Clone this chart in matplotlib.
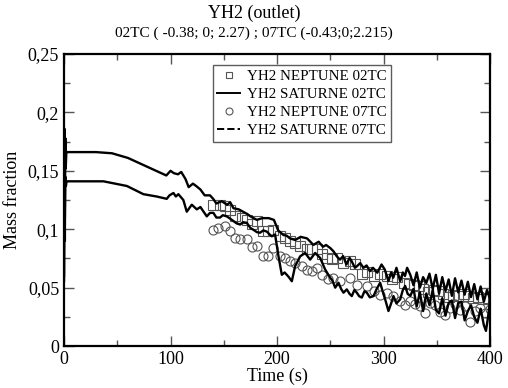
import matplotlib
matplotlib.use("Agg")
import matplotlib.pyplot as plt
from matplotlib.lines import Line2D
from matplotlib.ticker import MultipleLocator, FuncFormatter

plt.rcParams["font.family"] = ["Liberation Serif", "DejaVu Serif"]

# SATURNE 02TC (solid)
t_sat02 = [0, 0.4, 0.8, 1.2, 1.6, 2.2, 30, 45, 60, 72, 84, 96, 100, 103, 107, 110,
           114, 117, 121, 124, 128, 132, 137, 140, 143, 148, 153, 156, 159, 164, 168,
           172, 175, 181, 186, 192, 197, 201, 206, 209, 212, 217, 222, 228, 231, 234,
           239, 243, 246, 250, 253, 256, 259, 262, 265, 268, 270, 273, 275, 278, 281,
           284, 287, 290, 294, 298, 301, 304.5, 307, 309, 312, 315.5, 318, 320, 322,
           325, 328, 331, 334, 337, 340, 343, 346, 349, 352, 355, 358, 361, 364, 367,
           370, 373, 376, 379, 382, 385, 388, 391, 394, 397, 400]
y_sat02 = [0.056, 0.186, 0.09, 0.178, 0.152, 0.166, 0.166, 0.165, 0.161, 0.156,
           0.151, 0.146, 0.150, 0.148, 0.147, 0.149, 0.143, 0.136, 0.139, 0.137,
           0.134, 0.129, 0.129, 0.126, 0.122, 0.124, 0.121, 0.123, 0.118, 0.117,
           0.115, 0.113, 0.111, 0.108, 0.1095, 0.1095, 0.108, 0.099, 0.095, 0.0945,
           0.0922, 0.0908, 0.0935, 0.0922, 0.0895, 0.0866, 0.0893, 0.085, 0.0865,
           0.0838, 0.081, 0.0768, 0.074, 0.077, 0.0698, 0.0755, 0.0726, 0.067, 0.0684,
           0.071, 0.067, 0.069, 0.0642, 0.067, 0.0628, 0.0698, 0.0656, 0.0556, 0.063,
           0.0585, 0.067, 0.0556, 0.063, 0.060, 0.067,
           0.061, 0.052, 0.063, 0.050, 0.059, 0.054, 0.062, 0.049, 0.061, 0.045, 0.059,
           0.047, 0.057, 0.043, 0.058, 0.046, 0.056, 0.044, 0.055, 0.042, 0.053, 0.040,
           0.051, 0.038, 0.048, 0.040]

# SATURNE 07TC (dashed in the legend)
t_sat07 = [0, 0.4, 0.8, 1.2, 1.8, 2.4, 37, 59, 74.5, 87, 96.4, 99, 102.7, 105, 107.3,
           112, 115.2, 119.9, 124.6, 128, 131, 134, 137, 140.2, 143, 146.5, 149, 152.8,
           156, 159, 162, 165.3, 168, 171.5, 175, 177.8, 181, 184, 187, 190.3, 193,
           195, 198.1, 201.3, 204.4, 207, 209.1, 211, 213.8, 216.9, 221.6, 226.3, 231,
           235.7, 240.4, 245.1, 249.8, 252, 254.5, 257.6, 260, 262.3, 265.4, 268,
           270.1, 272.5, 274.8, 277, 279.5, 282, 284.2, 287, 290.5, 293.5, 296.7, 299,
           301.4, 304.5, 307, 309.2, 312, 315.5, 318, 320.2, 322.5,
           325, 328, 331, 334, 337, 340, 343, 346, 349, 352, 355, 358, 361, 364, 367,
           370, 373, 376, 379, 382, 385, 388, 391, 394, 396, 398, 400]
y_sat07 = [0.06, 0.152, 0.11, 0.145, 0.137, 0.141, 0.141, 0.137, 0.130, 0.128,
           0.126, 0.129, 0.131, 0.128, 0.130, 0.125, 0.115, 0.121, 0.117, 0.119,
           0.115, 0.111, 0.114, 0.114, 0.110, 0.110, 0.112, 0.111, 0.109, 0.107,
           0.105, 0.104, 0.106, 0.1055, 0.101, 0.0995, 0.0975, 0.097, 0.099, 0.098,
           0.0955, 0.094, 0.0955, 0.0768, 0.061, 0.063, 0.061, 0.059, 0.0555, 0.0684,
           0.0768, 0.0797, 0.074, 0.0797, 0.0754, 0.0655, 0.0585, 0.056, 0.05,
           0.0542, 0.049, 0.0457, 0.0485, 0.0447, 0.0428, 0.048, 0.0457, 0.0427, 0.0415,
           0.047, 0.0457, 0.0417, 0.0428, 0.049, 0.0542, 0.047, 0.04, 0.03, 0.0365,
           0.0428, 0.0365, 0.04, 0.048, 0.0515, 0.0447,
           0.043, 0.049, 0.034, 0.046, 0.030, 0.045, 0.035, 0.048, 0.031, 0.028, 0.041,
           0.026, 0.037, 0.039, 0.024, 0.037, 0.038, 0.022, 0.030, 0.035, 0.025, 0.020,
           0.032, 0.018, 0.013, 0.025, 0.041]

# NEPTUNE 02TC (squares)
t_nep02 = [140.2, 146.5, 151.2, 155.9, 160.6, 166.8, 171.5, 176.2, 180.9, 187.1,
           191.9, 196.6, 202.8, 207.5, 212.2, 216.9, 221.6, 227.9, 232.6, 237.3, 242,
           246.7, 251.4, 256, 262.3, 268.5, 273.2, 279.5, 284.2, 290.5, 296.7, 303,
           307.7, 312.4, 318.7, 323.4, 328, 333, 337, 342, 347, 351, 356, 361, 365,
           370, 375, 379, 384, 389, 393, 398]
y_nep02 = [0.121, 0.121, 0.1195, 0.1167, 0.111, 0.1097, 0.1082, 0.1048, 0.1068,
           0.0982, 0.0982, 0.0995, 0.094, 0.0926, 0.0897, 0.0884, 0.0855, 0.0828,
           0.0828, 0.0828, 0.0785, 0.0757, 0.0743, 0.0757, 0.0714, 0.0728, 0.07,
           0.0615, 0.063, 0.06, 0.0615, 0.06, 0.0573, 0.0587, 0.0544, 0.053, 0.052,
           0.051, 0.049, 0.046, 0.048, 0.047, 0.045, 0.042, 0.044, 0.043, 0.045,
           0.043, 0.041, 0.042, 0.040, 0.041]

# NEPTUNE 07TC (circles)
t_nep07 = [140.2, 144.9, 151.2, 155.9, 160.6, 165.3, 171.5, 176.2, 180.9, 187.1,
           191.9, 196.6, 202.8, 207.5, 212.2, 216.9, 223.2, 227.9, 232.6, 237.3, 242,
           248.2, 252.9, 259.2, 268.5, 274.8, 284.2, 290.5, 296.7, 303, 309.2, 315.5,
           320.2, 324.9, 329.6, 334.3, 339, 343.7, 348.4, 353.1, 357.8, 362.5, 367.2,
           371.9, 376.6, 381.3, 386, 390.7, 395.4, 400]
y_nep07 = [0.0995, 0.1012, 0.1025, 0.0982, 0.0926, 0.0917, 0.0917, 0.0848, 0.0853,
           0.0768, 0.0768, 0.084, 0.0768, 0.0754, 0.0726, 0.0712, 0.0683, 0.0655,
           0.0641, 0.067, 0.0612, 0.057, 0.0584, 0.0555, 0.0584, 0.0527, 0.0513,
           0.047, 0.0441, 0.0455, 0.0427, 0.0384, 0.0355, 0.0384, 0.036, 0.034, 0.028,
           0.037, 0.035, 0.029, 0.027, 0.033, 0.036, 0.031, 0.034, 0.021, 0.030,
           0.033, 0.028, 0.032]

LABELS = ["YH2 NEPTUNE 02TC", "YH2 SATURNE 02TC", "YH2 NEPTUNE 07TC", "YH2 SATURNE 07TC"]

fig = plt.figure(figsize=(5.08, 3.88), dpi=100)
ax = fig.add_axes([0.126, 0.108, 0.839, 0.753])

mk_col = "#555555"
ax.plot(t_nep02, y_nep02, ls="none", marker="s", ms=6.5, mfc="none", mec=mk_col, mew=0.8)
ax.plot(t_sat02, y_sat02, color="black", lw=1.7)
ax.plot(t_nep07, y_nep07, ls="none", marker="o", ms=6.5, mfc="none", mec=mk_col, mew=0.8)
# dense Grace-style dashes read as a solid line on the plot
ax.plot(t_sat07, y_sat07, color="black", lw=1.7)

ax.set_xlim(0, 400)
ax.set_ylim(0, 0.25)
ax.xaxis.set_major_locator(MultipleLocator(100))
ax.xaxis.set_minor_locator(MultipleLocator(50))
ax.yaxis.set_major_locator(MultipleLocator(0.05))
ax.yaxis.set_minor_locator(MultipleLocator(0.025))
ax.yaxis.set_major_formatter(FuncFormatter(lambda v, p: f"{v:g}".replace(".", ",")))
ax.tick_params(which="both", direction="in", top=True, right=True, labelsize=13,
               width=1.0, color="#555555")
ax.tick_params(which="major", length=7)
ax.tick_params(which="minor", length=4)
for s in ax.spines.values():
    s.set_linewidth(1.6)

ax.set_xlabel("Time (s)", fontsize=13, labelpad=0)
ax.set_ylabel("Mass fraction", fontsize=13, labelpad=5)

fig.text(0.5, 0.965, "YH2 (outlet)", ha="center", va="center", fontsize=13)
fig.text(0.5, 0.913, "02TC ( -0.38; 0; 2.27) ; 07TC (-0.43;0;2.215)",
         ha="center", va="center", fontsize=11)

handles = [
    Line2D([], [], ls="none", marker="s", ms=5, mfc="none", mec=mk_col, mew=0.8),
    Line2D([], [], color="black", lw=1.4),
    Line2D([], [], ls="none", marker="o", ms=5, mfc="none", mec=mk_col, mew=0.8),
    Line2D([], [], color="black", lw=1.4, ls="--"),
]
leg = ax.legend(handles, LABELS, loc="upper left", bbox_to_anchor=(0.419, 0.832),
                bbox_transform=fig.transFigure, fontsize=10.8, frameon=True,
                fancybox=False, edgecolor="#333333", borderpad=0.3, labelspacing=0.3,
                handlelength=1.5, handletextpad=0.5, borderaxespad=0)
leg.get_frame().set_linewidth(1.0)

fig.savefig("out.png", dpi=100)
